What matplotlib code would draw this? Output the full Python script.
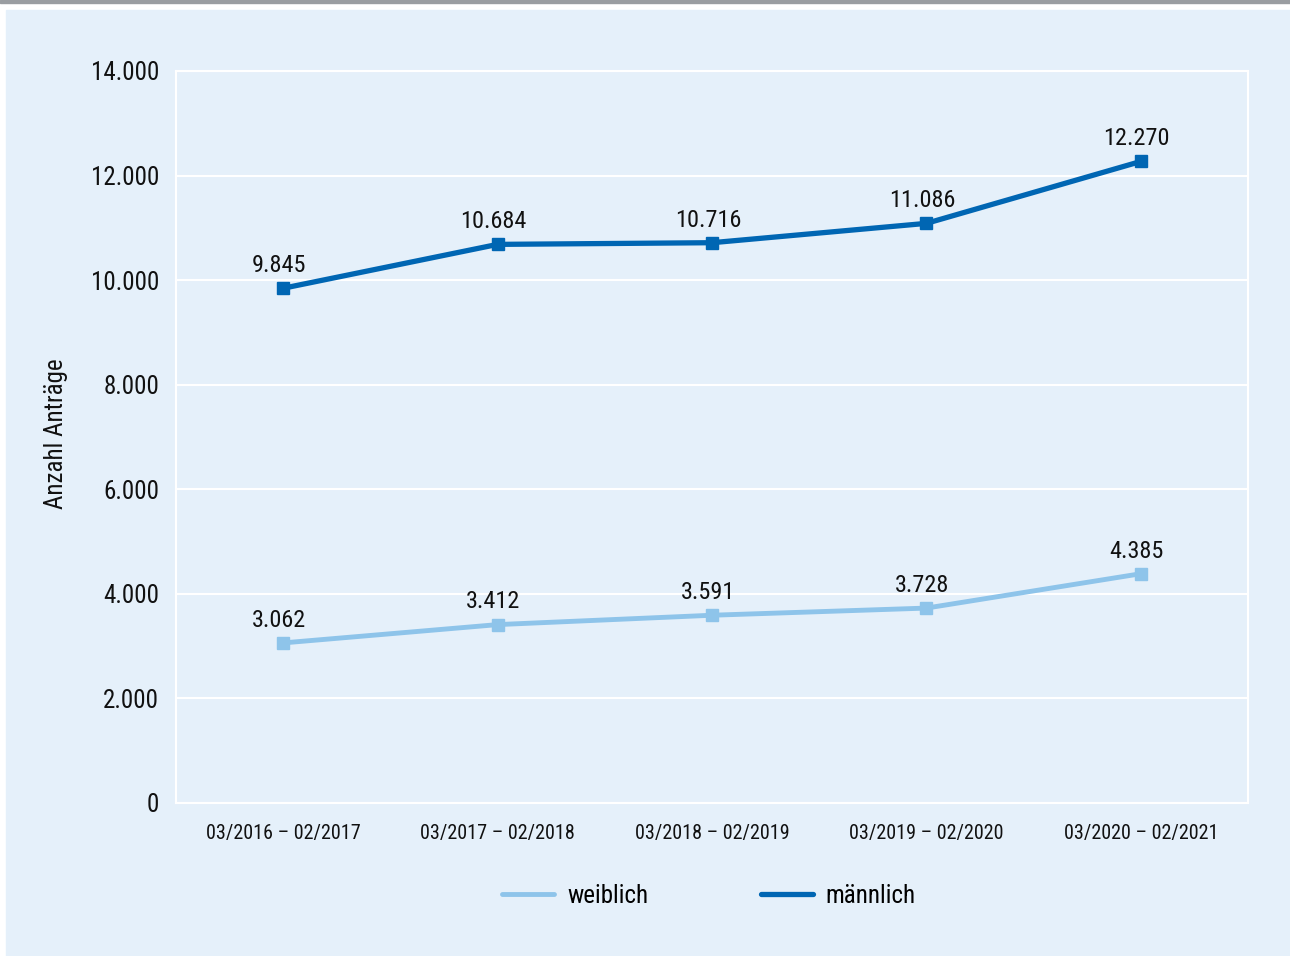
import matplotlib.pyplot as plt
from matplotlib.ticker import FuncFormatter
from matplotlib.patches import Rectangle

# Anzahl Anträge nach Geschlecht
zeitraeume = ['03/2016 – 02/2017', '03/2017 – 02/2018', '03/2018 – 02/2019',
              '03/2019 – 02/2020', '03/2020 – 02/2021']
weiblich = [3062, 3412, 3591, 3728, 4385]
maennlich = [9845, 10684, 10716, 11086, 12270]

HELL = '#8ec4ea'
DUNKEL = '#0066b3'
HINTERGRUND = '#e5f0fa'

plt.rcParams['font.family'] = ['Roboto Condensed', 'Liberation Sans', 'DejaVu Sans']
plt.rcParams['font.stretch'] = 'condensed'


def de_format(v, pos=None):
    return f'{int(v):,}'.replace(',', '.')


fig = plt.figure(figsize=(12.9, 9.56), dpi=100)
fig.patch.set_facecolor('white')
# grauer Balken oben und heller Kasten
fig.add_artist(Rectangle((0, 1 - 3 / 956), 1, 3 / 956, transform=fig.transFigure,
                         color='#9a9da1', zorder=0))
fig.add_artist(Rectangle((6 / 1290, 0), 1 - 6 / 1290, 1 - 10 / 956, transform=fig.transFigure,
                         color=HINTERGRUND, zorder=0))

ax = fig.add_axes([176 / 1290, 1 - 803 / 956, (1248 - 176) / 1290, (803 - 71) / 956])
ax.set_facecolor(HINTERGRUND)
x = range(len(zeitraeume))

ax.plot(x, weiblich, color=HELL, lw=3.5, marker='s', ms=8.5, label='weiblich', zorder=3)
ax.plot(x, maennlich, color=DUNKEL, lw=3.8, marker='s', ms=8.5, label='männlich', zorder=3)

for reihe in (weiblich, maennlich):
    for xi, v in zip(x, reihe):
        ax.annotate(de_format(v), (xi, v), xytext=(-3, 8), textcoords='offset points',
                    ha='center', va='bottom', fontsize=17.5, color='#111111')

ax.set_xlim(-0.5, 4.5)
ax.set_ylim(0, 14000)
ax.set_yticks(range(0, 14001, 2000))
ax.yaxis.set_major_formatter(FuncFormatter(de_format))
ax.set_xticks(list(x))
ax.set_xticklabels(zeitraeume)
ax.grid(axis='y', color='white', lw=1.5)
ax.set_axisbelow(True)
for s in ax.spines.values():
    s.set_color('white')
    s.set_linewidth(1.5)
ax.tick_params(axis='y', length=0, labelsize=18, pad=12, colors='#111111')
ax.tick_params(axis='x', length=0, labelsize=14.5, pad=15, colors='#111111')
ax.set_ylabel('Anzahl Anträge', fontsize=18, color='#111111')
ax.yaxis.set_label_coords(-0.101, 0.505)

leg = ax.legend(loc='center', bbox_to_anchor=(0.497, -0.127), ncol=2, frameon=False,
                fontsize=18, handlelength=2.1, columnspacing=4.5, handletextpad=0.5)
for ln in leg.get_lines():
    ln.set_marker('')
    ln.set_solid_capstyle('round')

fig.savefig('out.png', dpi=100, facecolor=fig.get_facecolor())
